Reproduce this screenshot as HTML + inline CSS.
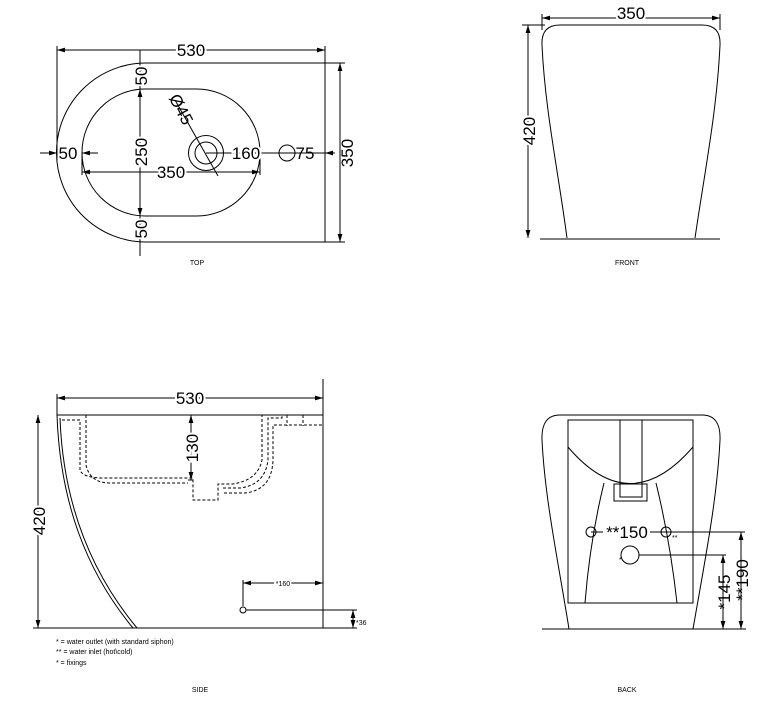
<!DOCTYPE html>
<html><head><meta charset="utf-8"><style>
html,body{margin:0;padding:0;background:#fff;}
svg{display:block;font-family:"Liberation Sans",Arial,sans-serif;}
</style></head><body>
<svg width="763" height="704" viewBox="0 0 763 704" xmlns="http://www.w3.org/2000/svg">
<defs>
<marker id="a" viewBox="0 0 10 6" refX="10" refY="3" markerWidth="8" markerHeight="5" orient="auto-start-reverse"><path d="M0,0L10,3L0,6z" fill="#000"/></marker>
</defs>
<g fill="none" stroke="#000" stroke-width="1">
<!-- TOP -->
<path d="M325,63 H146 A89.5,89.5 0 0 0 146,242 H325 Z"/>
<rect x="82" y="89" width="178" height="127" rx="63.5" ry="63.5"/>
<line x1="57" y1="46" x2="57" y2="160"/><line x1="325" y1="46" x2="325" y2="63"/>
<line x1="57" y1="50" x2="325" y2="50" marker-start="url(#a)" marker-end="url(#a)"/>
<line x1="325" y1="63" x2="345" y2="63"/><line x1="325" y1="242" x2="345" y2="242"/>
<line x1="340" y1="63" x2="340" y2="242" marker-start="url(#a)" marker-end="url(#a)"/>
<line x1="140" y1="50" x2="140" y2="256"/>
<line x1="140" y1="63" x2="140" y2="89" marker-start="url(#a)" marker-end="url(#a)"/>
<line x1="140" y1="89" x2="140" y2="216" marker-start="url(#a)" marker-end="url(#a)"/>
<line x1="140" y1="216" x2="140" y2="242" marker-start="url(#a)" marker-end="url(#a)"/>
<line x1="82" y1="152" x2="82" y2="175"/><line x1="260" y1="152" x2="260" y2="175"/>
<line x1="82" y1="172" x2="260" y2="172" marker-start="url(#a)" marker-end="url(#a)"/>
<line x1="40" y1="153" x2="57" y2="153" marker-end="url(#a)"/>
<line x1="98" y1="153" x2="82" y2="153" marker-end="url(#a)"/>
<circle cx="206" cy="153" r="17.5"/><circle cx="206" cy="153" r="11"/>
<line x1="175" y1="100" x2="218" y2="176"/>
<line x1="206" y1="153" x2="325" y2="153"/>
<circle cx="287" cy="153" r="8"/>
<line x1="335" y1="153" x2="325" y2="153" marker-end="url(#a)"/>
<!-- FRONT -->
<path d="M567,238 C558,170 545,110 542,45 Q541,25 560,25 H702 Q721,25 720,45 C717,110 705,170 695,238"/>
<line x1="540" y1="239" x2="720" y2="239"/>
<line x1="542" y1="14" x2="542" y2="30"/><line x1="720" y1="14" x2="720" y2="30"/>
<line x1="542" y1="18" x2="720" y2="18" marker-start="url(#a)" marker-end="url(#a)"/>
<line x1="522" y1="25" x2="545" y2="25"/>
<line x1="528" y1="25" x2="528" y2="238" marker-start="url(#a)" marker-end="url(#a)"/>
<!-- SIDE -->
<line x1="323" y1="379" x2="323" y2="628"/>
<line x1="57" y1="415" x2="323" y2="415"/>
<line x1="33" y1="628" x2="323" y2="628"/>
<line x1="57" y1="394" x2="57" y2="415"/>
<line x1="57" y1="398" x2="323" y2="398" marker-start="url(#a)" marker-end="url(#a)"/>
<line x1="38" y1="415" x2="38" y2="628" marker-start="url(#a)" marker-end="url(#a)"/>
<path d="M57,415 C60,500 85,570 133,628"/>
<path d="M60,418 C63,500 89,570 137,628"/>
<g stroke-dasharray="3,2">
<path d="M62,420 H80 V470 Q82,477 100,478 H193 V500 H218 V484 H233 Q258,480 262,460 V415"/>
<path d="M86,415 V465 Q90,483 110,483 H188"/>
<path d="M223,488 H240 Q265,485 268,460 V418 H282 V415"/>
<path d="M224,493 H245 Q272,490 273,460 V425 H323"/>
<path d="M287,415 V426 M303,415 V426"/>
</g>
<line x1="191" y1="415" x2="191" y2="480" marker-start="url(#a)" marker-end="url(#a)"/>
<line x1="188" y1="480" x2="193" y2="480"/>
<circle cx="243" cy="610" r="3"/>
<line x1="243" y1="580" x2="243" y2="606"/>
<line x1="243" y1="583" x2="323" y2="583" marker-start="url(#a)" marker-end="url(#a)"/>
<line x1="246" y1="610" x2="357" y2="610"/><line x1="323" y1="628" x2="357" y2="628"/>
<line x1="353" y1="610" x2="353" y2="628" marker-start="url(#a)" marker-end="url(#a)"/>
<!-- BACK -->
<path d="M569,629 C558,560 545,500 542,440 Q541,415 560,415 H702 Q721,415 720,440 C717,500 705,560 693,629"/>
<line x1="542" y1="629" x2="746" y2="629"/>
<path d="M568,420 V603 H693 V420 Z"/>
<path d="M568,447 Q630,520 693,447"/>
<path d="M620,420 V497 H642 V420"/><rect x="614" y="484" width="33" height="17"/>
<path d="M604,483 Q590,540 585,603 M656,483 Q670,540 677,603"/>
<circle cx="591" cy="532" r="5"/><circle cx="666" cy="532" r="5"/>
<line x1="591" y1="532" x2="603" y2="532"/><line x1="650" y1="532" x2="666" y2="532"/>
<line x1="666" y1="532" x2="745" y2="532"/>
<circle cx="630" cy="555" r="9"/>
<line x1="639" y1="555" x2="726" y2="555"/>
<line x1="723" y1="555" x2="723" y2="629" marker-start="url(#a)" marker-end="url(#a)"/>
<line x1="741" y1="532" x2="741" y2="629" marker-start="url(#a)" marker-end="url(#a)"/>
</g>
<g fill="#000" font-size="17">
<text x="191" y="56" text-anchor="middle" style="paint-order:stroke" stroke="#fff" stroke-width="4">530</text>
<text x="171" y="178" text-anchor="middle" style="paint-order:stroke" stroke="#fff" stroke-width="4">350</text>
<text x="68" y="159" text-anchor="middle">50</text>
<text x="246" y="159" text-anchor="middle" style="paint-order:stroke" stroke="#fff" stroke-width="4">160</text>
<text x="305" y="159" text-anchor="middle">75</text>
<text transform="translate(353,153) rotate(-90)" text-anchor="middle">350</text>
<text transform="translate(147,76) rotate(-90)" text-anchor="middle" style="paint-order:stroke" stroke="#fff" stroke-width="4">50</text>
<text transform="translate(147,152) rotate(-90)" text-anchor="middle" style="paint-order:stroke" stroke="#fff" stroke-width="4">250</text>
<text transform="translate(147,229) rotate(-90)" text-anchor="middle" style="paint-order:stroke" stroke="#fff" stroke-width="4">50</text>
<text transform="translate(176,112) rotate(62)" text-anchor="middle">Ø45</text>
<text x="631" y="19" text-anchor="middle" style="paint-order:stroke" stroke="#fff" stroke-width="4">350</text>
<text transform="translate(535,131) rotate(-90)" text-anchor="middle" style="paint-order:stroke" stroke="#fff" stroke-width="4">420</text>
<text x="190" y="404" text-anchor="middle" style="paint-order:stroke" stroke="#fff" stroke-width="4">530</text>
<text transform="translate(45,521) rotate(-90)" text-anchor="middle" style="paint-order:stroke" stroke="#fff" stroke-width="4">420</text>
<text transform="translate(198,448) rotate(-90)" text-anchor="middle" style="paint-order:stroke" stroke="#fff" stroke-width="4">130</text>
<text x="627" y="538" text-anchor="middle" style="paint-order:stroke" stroke="#fff" stroke-width="4">**150</text>
<text transform="translate(730,592) rotate(-90)" text-anchor="middle">*145</text>
<text transform="translate(748,580) rotate(-90)" text-anchor="middle">**190</text>
</g>
<g fill="#000" font-size="7">
<text x="283" y="586" text-anchor="middle" style="paint-order:stroke" stroke="#fff" stroke-width="3">*160</text>
<text x="356" y="625">*36</text>
<text x="56" y="644">* = water outlet (with standard siphon)</text>
<text x="56" y="654">** = water inlet (hot\cold)</text>
<text x="56" y="665">* = fixings</text>
<text x="197" y="265" text-anchor="middle">TOP</text>
<text x="627" y="265" text-anchor="middle">FRONT</text>
<text x="200" y="692" text-anchor="middle">SIDE</text>
<text x="627" y="692" text-anchor="middle">BACK</text>
<text x="672" y="540">**</text>
<text x="619" y="562">*</text>
</g>
</svg>
</body></html>
